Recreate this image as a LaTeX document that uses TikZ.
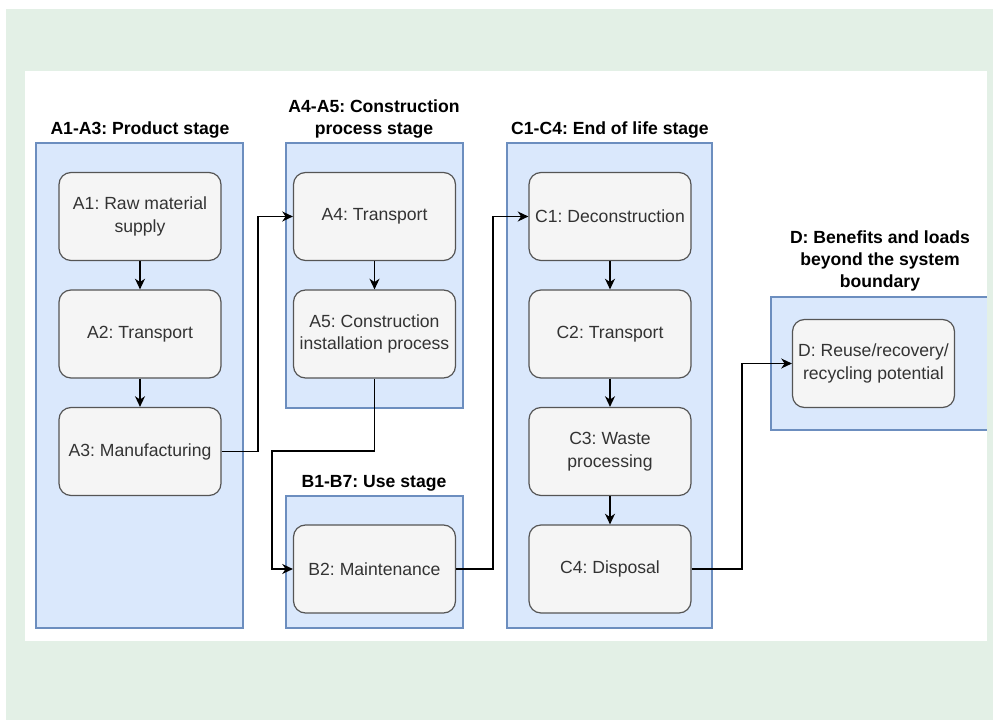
\documentclass[tikz,border=0pt]{standalone}
\usepackage{fontspec}
\setmainfont{Liberation Sans}
\frenchspacing
\usetikzlibrary{positioning,arrows.meta}

\definecolor{bggreen}{HTML}{E3F0E6}
\definecolor{stagefill}{HTML}{DAE8FC}
\definecolor{stageline}{HTML}{6C8EBF}
\definecolor{boxfill}{HTML}{F5F5F5}
\definecolor{boxline}{HTML}{555555}
\definecolor{boxtext}{HTML}{333333}

\begin{document}
\begin{tikzpicture}[
    x=0.75pt, y=-0.75pt,
    stage/.style={draw=stageline, fill=stagefill, line width=1.1pt},
    stagetitle/.style={font=\bfseries\fontsize{13.2}{16.5}\selectfont, align=center, inner sep=0pt},
    module/.style={draw=boxline, fill=boxfill, rounded corners=9pt, minimum width=121.5pt, minimum height=66pt, inner sep=0pt, align=center, text=boxtext, font=\fontsize{13.2}{17}\selectfont, line width=0.9pt},
    flow/.style={-{Stealth[length=8pt,width=7.5pt,inset=2.5pt]}, line width=1.1pt}
]
\useasboundingbox (0,0) rectangle (993,720);

% Background
\fill[bggreen] (6,9) rectangle (993,720);
\fill[white] (25,71) rectangle (987,641);

% Stages
\draw[stage] (36,143) rectangle (243,628);
\draw[stage] (286,143) rectangle (463,408);
\draw[stage] (286,496) rectangle (463,628);
\draw[stage] (507,143) rectangle (712,628);
\fill[stagefill] (771,297) rectangle (987,430);
\draw[stageline, line width=1.1pt] (987,297) -- (771,297) -- (771,430) -- (987,430);

% Stage titles
\node[stagetitle, anchor=base] (tprod) at (140,135) {A1-A3: Product stage};
\node[stagetitle, anchor=base] (tcons) at (374,135) {A4-A5: Construction\\process stage};
\node[stagetitle, anchor=base] (tuse) at (374,487) {B1-B7: Use stage};
\node[stagetitle, anchor=base] (tend) at (610,135) {C1-C4: End of life stage};
\node[stagetitle, anchor=base] (tben) at (880,288) {D: Benefits and loads\\beyond the system\\boundary};

% Modules
\node[module] (a1) at (140,216.5) {A1: Raw material\\supply};
\node[module] (a2) at (140,334) {A2: Transport};
\node[module] (a3) at (140,451.5) {A3: Manufacturing};
\node[module] (a4) at (374.5,216.5) {A4: Transport};
\node[module] (a5) at (374.5,334) {A5: Construction\\installation process};
\node[module] (b2) at (374.5,569) {B2: Maintenance};
\node[module] (c1) at (610,216.5) {C1: Deconstruction};
\node[module] (c2) at (610,334) {C2: Transport};
\node[module] (c3) at (610,451.5) {C3: Waste\\processing};
\node[module] (c4) at (610,569) {C4: Disposal};
\node[module] (d) at (873.5,363.5) {D: Reuse/recovery/\\recycling potential};

% Bends
\coordinate (ja) at (258,451.5);
\coordinate (jb) at (272,451);
\coordinate (jc) at (493,569);
\coordinate (jd) at (742,569);

% Flows
\draw[flow] (a1) -- (a2);
\draw[flow] (a2) -- (a3);
\draw[flow] (a4) -- (a5);
\draw[flow] (c1) -- (c2);
\draw[flow] (c2) -- (c3);
\draw[flow] (c3) -- (c4);
\draw[flow] (a3.east) -- (ja) |- (a4.west);
\draw[flow] (a5.south) |- (jb) |- (b2.west);
\draw[flow] (b2.east) -- (jc) |- (c1.west);
\draw[flow] (c4.east) -- (jd) |- (d.west);

\end{tikzpicture}
\end{document}
